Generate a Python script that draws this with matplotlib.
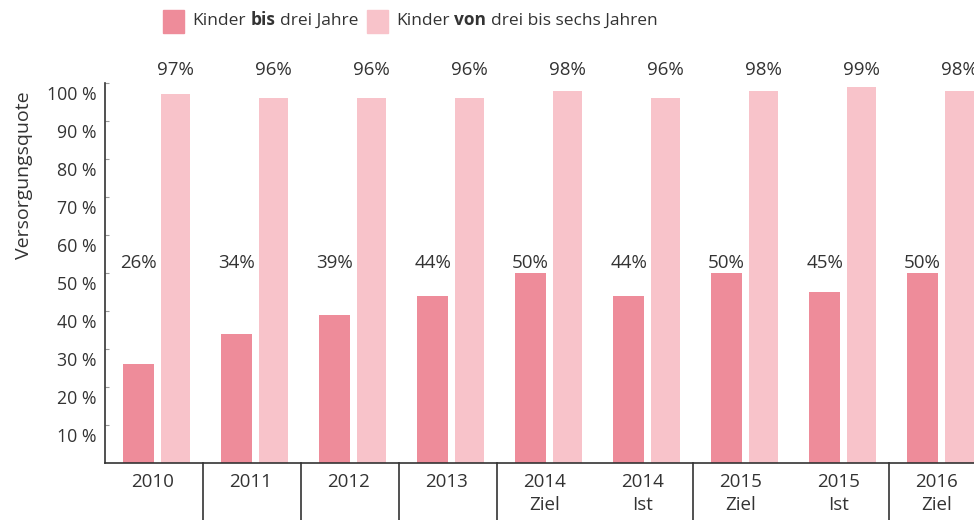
import matplotlib
matplotlib.use("Agg")
import matplotlib.pyplot as plt
import matplotlib.transforms as mtransforms
import numpy as np

plt.rcParams['font.family'] = ['Open Sans', 'DejaVu Sans']

# data
categories = ["2010", "2011", "2012", "2013", "2014\nZiel", "2014\nIst",
              "2015\nZiel", "2015\nIst", "2016\nZiel"]
under_three = [26, 34, 39, 44, 50, 44, 50, 45, 50]
three_to_six = [97, 96, 96, 96, 98, 96, 98, 99, 98]
ytick_values = [10, 20, 30, 40, 50, 60, 70, 80, 90, 100]
ytick_labels = ["10 %", "20 %", "30 %", "40 %", "50 %", "60 %", "70 %",
                "80 %", "90 %", "100 %"]
separators_after = [0, 1, 2, 3, 5, 7]  # group index after which a divider sits

dark_pink = "#EE8C9A"
light_pink = "#F8C3CA"
text_col = "#333333"

fig = plt.figure(figsize=(9.74, 5.2), dpi=100)
ax = fig.add_axes([105 / 974, 1 - 463 / 520, 1 - 105 / 974, 380 / 520])

x = np.arange(len(categories))
ax.bar(x - 0.175, under_three, width=0.316, color=dark_pink, zorder=2)
ax.bar(x + 0.2, three_to_six, width=0.295, color=light_pink, zorder=2)

ax.set_xlim(-0.52, 8.35)
ax.set_ylim(0, 100)

# value labels sit at fixed heights, not on top of the bars
for xi, v in zip(x, under_three):
    ax.text(xi - 0.175, 52.6, f"{v}%", ha="center", va="center",
            fontsize=13.5, color=text_col, clip_on=False)
for xi, v in zip(x, three_to_six):
    ax.text(xi + 0.2, 103.4, f"{v}%", ha="center", va="center",
            fontsize=13.5, color=text_col, clip_on=False)

# axes styling
for side in ["top", "right"]:
    ax.spines[side].set_visible(False)
ax.spines["left"].set_color(text_col)
ax.spines["bottom"].set_color(text_col)
ax.spines["left"].set_linewidth(1.2)
ax.spines["bottom"].set_linewidth(1.2)

ax.set_yticks(ytick_values)
ax.set_yticklabels(ytick_labels)
ax.tick_params(axis="y", direction="in", length=3, color="#999999",
               labelsize=12.8, labelcolor=text_col, pad=6)
# labels in the reference sit a little below their tick marks
offset = mtransforms.ScaledTranslation(0, -10 / 100, fig.dpi_scale_trans)
for lbl in ax.get_yticklabels():
    lbl.set_transform(lbl.get_transform() + offset)

ax.set_xticks(x - 0.03)
ax.set_xticklabels(categories, linespacing=1.35)
ax.tick_params(axis="x", length=0, labelsize=13.5, labelcolor=text_col, pad=7)

# group dividers below the axis
trans = mtransforms.blended_transform_factory(ax.transData, ax.transAxes)
for i in separators_after:
    ax.plot([i + 0.48, i + 0.48], [0, -0.16], transform=trans, color=text_col,
            lw=1.2, clip_on=False)

fig.text(24 / 974, 1 - 175 / 520, "Versorgungsquote", rotation=90,
         ha="center", va="center", fontsize=14, color=text_col)


# legend with partly bold text, pieces chained one after another
def chain(x0, color, parts):
    fig.patches.append(plt.Rectangle((x0 / 974, 1 - 32.5 / 520), 21 / 974, 23 / 520,
                                     transform=fig.transFigure, color=color,
                                     figure=fig))
    prev = fig.text((x0 + 29) / 974, 1 - 21 / 520, parts[0][0], ha="left",
                    va="center", fontsize=12.5, color=text_col,
                    fontweight=parts[0][1])
    for txt, weight in parts[1:]:
        prev = ax.annotate(txt, xy=(1, 0), xycoords=prev, xytext=(3.5, 0),
                           textcoords="offset points", ha="left", va="bottom",
                           fontsize=12.5, color=text_col, fontweight=weight,
                           annotation_clip=False)


chain(163, dark_pink, [("Kinder", "normal"), ("bis", "bold"),
                       ("drei Jahre", "normal")])
chain(367, light_pink, [("Kinder", "normal"), ("von", "bold"),
                        ("drei bis sechs Jahren", "normal")])

fig.savefig("out.png", dpi=100)
